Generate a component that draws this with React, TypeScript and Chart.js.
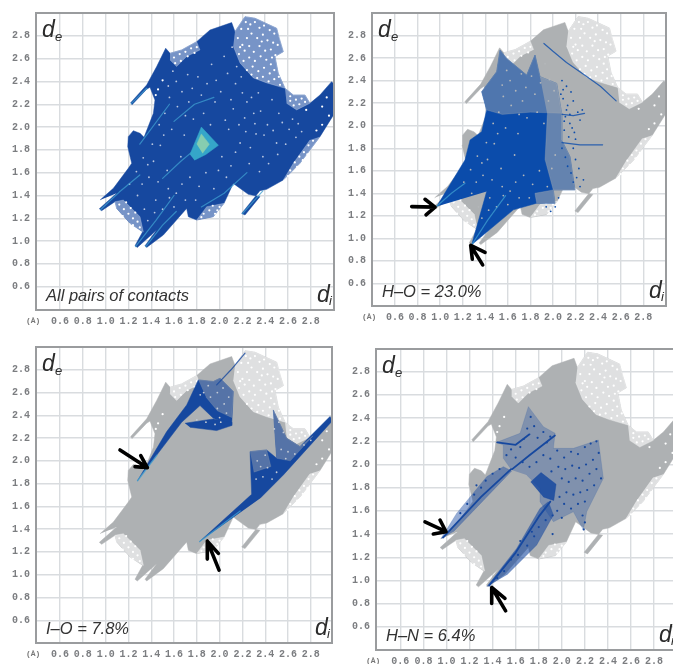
import React, { useEffect, useRef } from "react";
import { Chart, registerables } from "chart.js";

Chart.register(...registerables);

type P = [number, number];

const tickValues = [0.6, 0.8, 1.0, 1.2, 1.4, 1.6, 1.8, 2.0, 2.2, 2.4, 2.6, 2.8];

const cloudOutline: P[] = [
  [0.951, 1.36], [1.068, 1.463], [1.199, 1.638], [1.229, 1.682], [1.194, 1.828], [1.199, 1.916], [1.243, 1.968],
  [1.302, 1.945], [1.337, 1.91], [1.419, 2.12], [1.433, 2.237], [1.389, 2.349], [1.36, 2.331], [1.232, 2.196],
  [1.22, 2.214], [1.36, 2.369], [1.448, 2.53], [1.527, 2.691], [1.565, 2.647], [1.667, 2.676], [1.799, 2.749],
  [1.916, 2.851], [2.106, 2.916], [2.135, 2.837], [2.223, 2.968], [2.311, 2.954], [2.501, 2.866], [2.524, 2.778],
  [2.559, 2.661], [2.486, 2.618], [2.515, 2.471], [2.574, 2.34], [2.647, 2.281], [2.749, 2.281], [2.793, 2.208],
  [2.881, 2.281], [2.983, 2.398], [3.0, 2.38], [3.0, 2.106], [2.881, 1.916], [2.705, 1.682], [2.559, 1.536],
  [2.413, 1.454], [2.354, 1.442], [2.194, 1.243], [2.223, 1.229], [2.354, 1.39], [2.252, 1.41], [2.12, 1.506],
  [2.039, 1.331], [1.945, 1.214], [1.799, 1.185], [1.726, 1.214], [1.711, 1.287], [1.506, 1.053], [1.36, 0.945],
  [1.346, 0.96], [1.448, 1.097], [1.278, 0.945], [1.258, 0.96], [1.325, 1.082], [1.214, 1.156], [1.097, 1.287],
  [1.082, 1.346], [0.965, 1.267], [0.945, 1.284], [1.097, 1.419],
];

const sparseRegions: P[][] = [
  [[2.135, 2.837], [2.223, 2.968], [2.311, 2.954], [2.501, 2.866], [2.559, 2.661], [2.486, 2.618], [2.515, 2.471], [2.574, 2.34], [2.413, 2.387], [2.296, 2.431], [2.179, 2.562], [2.12, 2.708]],
  [[1.565, 2.647], [1.667, 2.676], [1.799, 2.749], [1.828, 2.676], [1.711, 2.618], [1.623, 2.53], [1.565, 2.589]],
  [[1.097, 1.287], [1.082, 1.346], [1.155, 1.36], [1.302, 1.214], [1.331, 1.082], [1.214, 1.156]],
  [[2.881, 1.916], [2.705, 1.682], [2.559, 1.536], [2.647, 1.682], [2.793, 1.887]],
  [[2.574, 2.34], [2.647, 2.281], [2.749, 2.281], [2.793, 2.208], [2.676, 2.15], [2.588, 2.208]],
  [[1.945, 1.214], [2.039, 1.331], [1.887, 1.302], [1.799, 1.185]],
];

const speckleEdge: P[] = [
  [2.16, 2.78], [2.19, 2.86], [2.23, 2.92], [2.27, 2.9], [2.31, 2.92], [2.35, 2.87], [2.39, 2.89], [2.44, 2.85], [2.48, 2.82], [2.2, 2.72],
  [2.24, 2.78], [2.28, 2.82], [2.33, 2.78], [2.38, 2.81], [2.42, 2.76], [2.47, 2.74], [2.51, 2.72], [2.17, 2.64], [2.22, 2.67], [2.26, 2.71],
  [2.3, 2.66], [2.35, 2.71], [2.4, 2.67], [2.45, 2.68], [2.49, 2.63], [2.21, 2.58], [2.26, 2.61], [2.31, 2.58], [2.36, 2.62], [2.41, 2.59],
  [2.45, 2.55], [2.24, 2.5], [2.29, 2.53], [2.34, 2.49], [2.39, 2.52], [2.44, 2.47], [2.48, 2.5], [2.33, 2.43], [2.38, 2.44], [2.43, 2.4],
  [2.48, 2.42], [2.53, 2.37], [2.18, 2.7], [2.25, 2.86], [2.37, 2.75], [2.46, 2.61], [2.28, 2.46], [2.52, 2.44],
  [1.6, 2.61], [1.65, 2.64], [1.7, 2.66], [1.75, 2.69], [1.8, 2.7], [1.66, 2.58], [1.72, 2.62], [1.78, 2.65], [1.61, 2.56], [1.5, 2.41], [1.46, 2.33], [1.44, 2.28],
  [1.12, 1.32], [1.16, 1.28], [1.2, 1.24], [1.24, 1.2], [1.28, 1.17], [1.18, 1.34], [1.22, 1.29], [1.26, 1.25], [1.3, 1.12], [1.15, 1.22], [1.24, 1.14],
  [2.62, 1.62], [2.66, 1.69], [2.7, 1.74], [2.74, 1.78], [2.78, 1.84], [2.82, 1.88], [2.68, 1.65], [2.73, 1.71], [2.77, 1.76], [2.6, 1.57], [2.85, 1.97], [2.9, 2.02],
  [2.62, 2.27], [2.67, 2.24], [2.72, 2.25], [2.65, 2.19], [2.7, 2.2], [2.75, 2.22], [2.62, 2.23], [2.76, 2.15], [2.94, 2.26], [2.9, 2.18], [2.96, 2.1],
  [1.86, 1.24], [1.91, 1.27], [1.96, 1.24], [2.0, 1.3], [1.94, 1.31], [1.84, 1.21], [1.98, 1.27],
];

const speckleCore: P[] = [
  [1.42, 1.7], [1.48, 1.84], [1.54, 1.62], [1.58, 1.98], [1.62, 1.42], [1.66, 1.74], [1.7, 2.1], [1.74, 1.56], [1.76, 2.34], [1.52, 2.12],
  [1.56, 2.26], [1.62, 2.4], [1.82, 1.48], [1.88, 1.6], [1.92, 2.02], [1.96, 2.22], [2.02, 1.74], [2.06, 1.56], [2.08, 1.98], [2.12, 2.16],
  [2.14, 2.38], [2.18, 1.86], [2.22, 2.08], [2.26, 1.68], [2.28, 2.26], [2.32, 1.94], [2.36, 2.14], [2.38, 1.74], [2.42, 2.02], [2.46, 2.24],
  [2.5, 1.86], [2.52, 2.12], [2.2, 2.3], [2.24, 2.22], [2.17, 2.02], [2.3, 2.12], [2.34, 2.3], [2.1, 2.24], [2.05, 2.06], [1.46, 1.52],
  [1.38, 1.56], [1.32, 1.5], [1.44, 1.36], [1.5, 1.28], [1.6, 1.3], [1.7, 1.36], [1.34, 1.28], [1.28, 1.4], [1.86, 2.12], [1.72, 2.46],
  [1.47, 2.02], [1.51, 1.93], [1.55, 2.36], [1.59, 2.49], [1.63, 2.18], [1.67, 2.31], [1.69, 1.93], [1.73, 2.22], [1.77, 2.07], [1.81, 2.44],
  [1.84, 2.28], [1.89, 2.38], [1.93, 2.55], [1.97, 2.41], [2.01, 2.31], [2.04, 2.62], [2.07, 2.47], [2.11, 2.7], [2.15, 2.53], [2.19, 2.44],
  [2.23, 1.96], [2.27, 1.82], [2.31, 2.03], [2.35, 1.61], [2.39, 1.93], [2.43, 1.68], [2.47, 1.97], [2.51, 1.76], [2.55, 2.04], [2.58, 1.85],
  [2.61, 1.98], [2.64, 2.07], [2.67, 1.91], [2.69, 2.03], [2.72, 1.96], [2.1, 1.66], [2.14, 1.78], [1.99, 1.62], [1.95, 1.46], [1.79, 1.36],
  [1.55, 1.46], [1.37, 1.67], [1.41, 1.85], [1.33, 1.73], [1.27, 1.61], [1.21, 1.5], [1.37, 1.18], [1.43, 1.25], [1.56, 1.38], [1.67, 1.5],
];

const cyanStreaks: P[][] = [
  [[1.225, 2.205], [1.36, 2.34]],
  [[2.2, 1.24], [2.38, 1.44]],
  [[0.955, 1.275], [1.12, 1.43], [1.3, 1.58]],
  [[1.262, 0.952], [1.44, 1.18], [1.6, 1.4]],
  [[1.352, 0.952], [1.5, 1.14], [1.62, 1.26]],
  [[1.5, 1.55], [1.66, 1.7], [1.78, 1.8]],
  [[1.3, 1.85], [1.56, 2.2]],
  [[1.84, 1.3], [2.04, 1.42], [2.24, 1.6]],
  [[1.6, 2.05], [1.78, 2.2], [1.95, 2.26]],
];
const coreCyan: P[] = [[1.74, 1.76], [1.84, 2.0], [1.99, 1.84], [1.88, 1.76], [1.78, 1.71]];
const coreGreen: P[] = [[1.8, 1.85], [1.84, 1.94], [1.91, 1.85], [1.85, 1.77]];

const hoBody: P[] = [
  [0.969, 1.282], [1.22, 1.696], [1.265, 1.873], [1.368, 1.947], [1.412, 2.139], [1.368, 2.302], [1.501, 2.479], [1.531, 2.671],
  [1.59, 2.597], [1.767, 2.449], [1.841, 2.627], [1.885, 2.435], [2.033, 2.375], [2.077, 2.11], [2.077, 1.873], [2.151, 1.726],
  [2.195, 1.43], [2.003, 1.43], [2.018, 1.312], [1.856, 1.312], [1.649, 1.253], [1.279, 0.943], [1.412, 1.415],
];
const hoThinUpper: P[] = [
  [1.368, 2.302], [1.501, 2.479], [1.531, 2.671], [1.59, 2.597], [1.767, 2.449], [1.841, 2.627], [1.885, 2.435], [2.033, 2.375], [2.077, 2.11], [1.8, 2.12], [1.55, 2.1], [1.412, 2.139],
];
const hoThinRight: P[] = [
  [1.885, 2.435], [2.033, 2.375], [2.077, 2.11], [2.077, 1.873], [2.151, 1.726], [2.195, 1.43], [2.003, 1.43], [1.93, 1.7], [1.95, 2.1],
];
const hoThinLow: P[] = [[2.018, 1.312], [2.003, 1.43], [1.84, 1.4], [1.856, 1.312]];
const hoEdgeDots: P[] = [
  [2.09, 2.24], [2.13, 2.18], [2.18, 2.22], [2.22, 2.12], [2.26, 2.14], [2.11, 2.08], [2.15, 2.02], [2.1, 1.96], [2.14, 1.9], [2.19, 1.94],
  [2.18, 1.8], [2.2, 1.7], [2.23, 1.62], [2.21, 1.54], [2.24, 1.46], [2.16, 2.3], [2.09, 2.32], [2.12, 2.14], [2.17, 1.98], [2.27, 1.52],
  [2.05, 1.36], [2.02, 1.28], [1.98, 1.24], [1.94, 1.28], [2.08, 1.8], [2.11, 1.72], [2.13, 1.64], [2.16, 1.58], [2.1, 2.04], [2.08, 2.4],
  [2.12, 2.35], [2.07, 2.28], [2.15, 2.1], [2.2, 1.88], [2.24, 2.05], [2.18, 1.5],
];
const hoStreaks: P[][] = [
  [[1.92, 2.73], [2.0, 2.66], [2.12, 2.56], [2.28, 2.45], [2.42, 2.35], [2.56, 2.22]],
  [[2.08, 1.85], [2.24, 1.83], [2.44, 1.83]],
  [[2.08, 2.1], [2.18, 2.09], [2.28, 2.11]],
];
const hoCyan: P[][] = [
  [[0.97, 1.285], [1.1, 1.4], [1.22, 1.49]],
  [[1.285, 0.95], [1.42, 1.16], [1.58, 1.38]],
];

const ioWedge: P[] = [
  [1.278, 1.823], [1.536, 2.257], [1.711, 2.491], [1.813, 2.711], [1.945, 2.697], [2.004, 2.726], [2.12, 2.609], [2.106, 2.316],
  [1.945, 2.374], [1.828, 2.486], [1.667, 2.339], [1.36, 1.934],
];
const ioBand: P[] = [[1.696, 2.33], [1.828, 2.351], [1.945, 2.368], [2.106, 2.339], [2.106, 2.31], [1.974, 2.266], [1.74, 2.295]];
const ioFork: P[] = [
  [1.822, 1.289], [2.281, 1.706], [2.267, 2.081], [2.413, 2.096], [2.501, 2.022], [2.471, 2.447], [2.588, 2.198], [2.705, 2.125],
  [2.968, 2.389], [2.989, 2.351], [2.559, 1.876], [2.354, 1.67],
];
const ioThin: P[][] = [
  [[1.813, 2.711], [1.945, 2.697], [2.004, 2.726], [2.12, 2.609], [2.106, 2.38], [1.98, 2.44], [1.88, 2.56]],
  [[2.471, 2.447], [2.588, 2.198], [2.705, 2.125], [2.82, 2.22], [2.62, 2.0], [2.501, 2.022]],
  [[2.267, 2.081], [2.413, 2.096], [2.45, 1.95], [2.3, 1.9]],
];
const ioStreak: P[] = [[1.974, 2.667], [2.1, 2.8], [2.223, 2.946]];
const ioCyan: P[][] = [
  [[1.28, 1.825], [1.45, 2.05]],
  [[1.825, 1.292], [2.18, 1.56]],
];
const ioDots: P[] = [
  [1.86, 2.6], [1.92, 2.56], [1.98, 2.6], [2.04, 2.5], [2.06, 2.42], [1.98, 2.46], [1.8, 2.36], [1.88, 2.34], [1.96, 2.32], [2.0, 2.38],
  [2.36, 1.95], [2.32, 1.84], [2.42, 1.94], [2.5, 1.9], [2.54, 2.1], [2.6, 2.08], [2.66, 2.06], [2.56, 2.25], [2.52, 2.34], [2.74, 2.14],
  [2.8, 2.18], [2.48, 2.28], [2.58, 2.02], [2.38, 1.86], [2.33, 2.0], [2.4, 2.05], [2.46, 1.84], [1.9, 2.66], [2.03, 2.64], [2.08, 2.56],
  [2.01, 2.34], [1.83, 2.58],
];

const hnBandLeft: P[] = [[0.95, 1.357], [1.088, 1.578], [1.349, 1.895], [1.493, 1.981], [1.565, 1.944], [1.06, 1.42]];
const hnBandLow: P[] = [[1.349, 0.945], [1.609, 1.276], [1.811, 1.621], [1.883, 1.679], [1.927, 1.564], [1.782, 1.305], [1.522, 1.046]];
const hnBody: P[] = [
  [1.565, 1.952], [1.493, 2.053], [1.493, 2.168], [1.435, 2.191], [1.638, 2.269], [1.71, 2.499], [1.84, 2.326], [1.942, 2.269],
  [1.927, 2.139], [2.1, 2.139], [2.317, 2.211], [2.36, 1.88], [2.216, 1.592], [2.187, 1.434], [2.1, 1.592], [1.927, 1.506],
  [1.811, 1.679], [1.811, 1.794], [1.695, 1.909],
];
const hnCore: P[] = [[1.73, 1.85], [1.82, 1.93], [1.95, 1.83], [1.93, 1.69], [1.84, 1.72]];
const hnDarkLines: P[][] = [
  [[0.97, 1.37], [1.3, 1.72], [1.56, 1.96]],
  [[1.37, 0.955], [1.6, 1.24], [1.8, 1.55], [1.9, 1.68]],
  [[1.57, 1.96], [1.72, 2.08], [1.94, 2.25]],
  [[1.44, 2.19], [1.6, 2.17], [1.72, 2.26]],
];
const hnDots: P[] = [
  [1.52, 2.08], [1.56, 2.13], [1.6, 2.06], [1.64, 2.15], [1.67, 2.22], [1.7, 2.31], [1.73, 2.41], [1.76, 2.33], [1.79, 2.23], [1.84, 2.28],
  [1.87, 2.19], [1.9, 2.24], [1.66, 2.02], [1.72, 1.98], [1.78, 2.02], [1.84, 2.08], [1.9, 2.05], [1.96, 2.12], [2.02, 2.06], [2.08, 2.11],
  [2.14, 2.09], [2.2, 2.15], [2.25, 2.18], [2.3, 2.2], [2.32, 2.1], [2.27, 2.04], [2.21, 2.0], [2.15, 1.97], [2.09, 1.99], [2.03, 1.96],
  [1.97, 1.98], [1.91, 1.94], [2.0, 1.88], [2.06, 1.85], [2.12, 1.88], [2.18, 1.86], [2.24, 1.92], [2.3, 1.96], [2.34, 1.88], [2.28, 1.82],
  [2.22, 1.78], [2.16, 1.76], [2.1, 1.74], [2.04, 1.76], [1.98, 1.72], [2.02, 1.66], [2.08, 1.62], [2.14, 1.66], [2.2, 1.68], [2.18, 1.56],
  [2.2, 1.5], [2.19, 1.44], [1.96, 1.6], [1.92, 1.56], [1.86, 1.52], [1.8, 1.46], [1.74, 1.42], [1.92, 1.4], [2.0, 1.54], [1.3, 1.8],
  [1.24, 1.74], [1.18, 1.66], [1.12, 1.58], [1.26, 1.82], [1.34, 1.86], [1.4, 1.92], [1.46, 1.96], [1.64, 1.34], [1.7, 1.3], [1.76, 1.38],
  [1.56, 1.18], [1.62, 1.22], [1.5, 1.08], [1.44, 1.02],
];

const arrowsHO: P[][] = [
  [[0.748, 1.282], [0.955, 1.277], [0.866, 1.347], [0.955, 1.277], [0.875, 1.209]],
  [[1.377, 0.765], [1.271, 0.937], [1.398, 0.875], [1.271, 0.937], [1.285, 0.816]],
];
const arrowsIO: P[][] = [
  [[1.126, 2.096], [1.366, 1.94], [1.258, 1.949], [1.366, 1.94], [1.308, 2.046]],
  [[1.995, 1.04], [1.892, 1.295], [1.892, 1.137], [1.892, 1.295], [1.989, 1.187]],
];
const arrowsHN: P[][] = [
  [[0.814, 1.506], [0.996, 1.42], [0.886, 1.4], [0.996, 1.42], [0.944, 1.521]],
  [[1.513, 0.738], [1.392, 0.939], [1.392, 0.801], [1.392, 0.939], [1.507, 0.845]],
];

const captions = ["All pairs of contacts", "H–O = 23.0%", "I–O = 7.8%", "H–N = 6.4%"];

const BLUE = "#16489f";
const BLUE_HO = "#0b4cab";
const GRAY = "#aeb1b3";
const CYAN = "rgba(63,159,208,0.75)";
const THIN = "rgba(174,177,179,0.42)";

const pts = (a: P[]) => a.map(([x, y]) => ({ x, y }));
const poly = (a: P[], color: string) => ({
  type: "scatter", data: pts(a), showLine: true, fill: "shape", tension: 0,
  backgroundColor: color, borderColor: color, borderWidth: 0.5, pointRadius: 0,
});
const seg = (a: P[], color: string, w: number) => ({
  type: "scatter", data: pts(a), showLine: true, fill: false, tension: 0,
  borderColor: color, borderWidth: w, pointRadius: 0, borderCapStyle: "round", borderJoinStyle: "round",
});
const dots = (a: P[], color: string, r: number) => ({
  type: "scatter", data: pts(a), showLine: false, pointRadius: r,
  pointBackgroundColor: color, pointBorderWidth: 0,
});

function base(fill: string, speck: string, sparse: string) {
  return [
    poly(cloudOutline, fill),
    ...sparseRegions.map((r) => poly(r, sparse)),
    dots(speckleEdge, speck, 1.1),
  ];
}

const panel1 = [
  ...base(BLUE, "#ffffff", "rgba(255,255,255,0.42)"),
  dots(speckleCore, "#b9c6e0", 0.9),
  ...cyanStreaks.map((s) => seg(s, CYAN, 1.2)),
  poly(coreCyan, "#35a6c9"),
  poly(coreGreen, "#86cdb0"),
];
const panel2 = [
  ...base(GRAY, "#ffffff", "rgba(255,255,255,0.6)"),
  poly(hoBody, BLUE_HO),
  poly(hoThinUpper, THIN),
  poly(hoThinRight, "rgba(174,177,179,0.55)"),
  poly(hoThinLow, "rgba(174,177,179,0.55)"),
  dots(speckleCore.filter(([x]) => x < 2.05), "#b4b7ba", 0.9),
  dots(hoEdgeDots, BLUE_HO, 0.9),
  ...hoStreaks.map((s) => seg(s, "rgba(11,76,171,0.8)", 1.2)),
  ...hoCyan.map((s) => seg(s, CYAN, 1.2)),
  ...arrowsHO.map((a) => seg(a, "#000000", 3.6)),
];
const panel3 = [
  ...base(GRAY, "#ffffff", "rgba(255,255,255,0.6)"),
  poly(ioWedge, BLUE),
  poly(ioBand, BLUE),
  poly(ioFork, BLUE),
  ...ioThin.map((r) => poly(r, THIN)),
  dots(ioDots, "#c4cbd6", 0.9),
  seg(ioStreak, "rgba(22,72,159,0.8)", 1.2),
  ...ioCyan.map((s) => seg(s, CYAN, 1.4)),
  ...arrowsIO.map((a) => seg(a, "#000000", 3.6)),
];
const panel4 = [
  ...base(GRAY, "#ffffff", "rgba(255,255,255,0.6)"),
  poly(hnBody, "rgba(22,72,159,0.3)"),
  poly(hnBandLeft, "rgba(22,72,159,0.45)"),
  poly(hnBandLow, "rgba(22,72,159,0.6)"),
  poly(hnCore, "rgba(22,72,159,0.85)"),
  dots(hnDots, BLUE, 1.1),
  ...hnDarkLines.map((s) => seg(s, BLUE, 1.8)),
  ...arrowsHN.map((a) => seg(a, "#000000", 3.6)),
];

type Panel = {
  L: number; T: number; R: number; B: number;
  xmin: number; xmax: number; ymin: number; ymax: number;
  datasets: any[]; caption: string;
};
const panels: Panel[] = [
  { L: 36, T: 13, R: 334, B: 310, xmin: 0.389, xmax: 3.004, ymin: 0.396, ymax: 3.0, datasets: panel1, caption: captions[0] },
  { L: 372, T: 13, R: 666, B: 306, xmin: 0.396, xmax: 3.002, ymin: 0.4, ymax: 3.0, datasets: panel2, caption: captions[1] },
  { L: 36, T: 347, R: 332, B: 643, xmin: 0.389, xmax: 2.986, ymin: 0.4, ymax: 3.0, datasets: panel3, caption: captions[2] },
  { L: 376, T: 349, R: 676, B: 650, xmin: 0.389, xmax: 2.99, ymin: 0.4, ymax: 2.996, datasets: panel4, caption: captions[3] },
];

const PAD_L = 36, PAD_T = 13, PAD_R = 6, PAD_B = 24;

const framePlugin = {
  id: "frameAndText",
  afterDraw(chart: any, _a: any, opts: any) {
    const { ctx, chartArea: c } = chart;
    ctx.save();
    ctx.strokeStyle = "#9a9c9e";
    ctx.lineWidth = 2;
    ctx.strokeRect(c.left, c.top, c.right - c.left, c.bottom - c.top);
    ctx.fillStyle = "#2b2b2b";
    ctx.textBaseline = "alphabetic";
    ctx.textAlign = "left";
    ctx.font = "italic 23px 'Liberation Sans'";
    ctx.fillText("d", c.left + 6, c.top + 24);
    ctx.font = "italic 13px 'Liberation Sans'";
    ctx.fillText("e", c.left + 19, c.top + 28);
    ctx.font = "italic 23px 'Liberation Sans'";
    ctx.fillText("d", c.right - 17, c.bottom - 8);
    ctx.font = "italic 13px 'Liberation Sans'";
    ctx.fillText("i", c.right - 5, c.bottom - 5);
    ctx.font = "italic 16.5px 'Liberation Sans'";
    ctx.fillStyle = "#333333";
    ctx.fillText(opts.caption, c.left + 10, c.bottom - 9);
    ctx.fillStyle = "#777777";
    ctx.font = "bold 8px 'Liberation Mono'";
    ctx.fillText("(Å)", c.left - 10, c.bottom + 13);
    ctx.restore();
  },
};

function PanelChart({ p }: { p: Panel }) {
  const ref = useRef<HTMLCanvasElement | null>(null);
  const width = p.R - p.L + PAD_L + PAD_R;
  const height = p.B - p.T + PAD_T + PAD_B;
  useEffect(() => {
    if (!ref.current) return;
    const axis = (min: number, max: number, isX: boolean) => ({
      type: "linear", min, max,
      afterBuildTicks: (s: any) => { s.ticks = tickValues.map((value) => ({ value })); },
      afterFit: (s: any) => { if (isX) s.height = PAD_B; else s.width = PAD_L; },
      grid: { color: "#d9dcdf", lineWidth: 1.4, drawTicks: false },
      border: { display: false },
      ticks: {
        autoSkip: false, maxRotation: 0, padding: isX ? 5 : 6, color: "#7b7d80",
        font: { family: "'Liberation Mono'", size: 10, weight: "bold" },
        callback: (v: any) => Number(v).toFixed(1),
      },
    });
    const chart = new Chart(ref.current, {
      type: "scatter",
      data: { datasets: [...p.datasets].reverse() },
      options: {
        animation: false, responsive: false,
        layout: { padding: { top: PAD_T, right: PAD_R, left: 0, bottom: 0 } },
        scales: { x: axis(p.xmin, p.xmax, true), y: axis(p.ymin, p.ymax, false) },
        plugins: { legend: { display: false }, tooltip: { enabled: false }, frameAndText: { caption: p.caption } },
      },
      plugins: [framePlugin],
    } as any);
    return () => chart.destroy();
  }, []);
  return (
    <canvas
      ref={ref}
      width={width}
      height={height}
      style={{ position: "absolute", left: p.L - PAD_L, top: p.T - PAD_T, width, height, filter: "blur(0.5px)" }}
    />
  );
}

export default function App() {
  return (
    <div style={{ position: "absolute", left: 0, top: 0, width: 673, height: 664, overflow: "hidden", background: "#fff" }}>
      {panels.map((p, i) => <PanelChart key={i} p={p} />)}
    </div>
  );
}
